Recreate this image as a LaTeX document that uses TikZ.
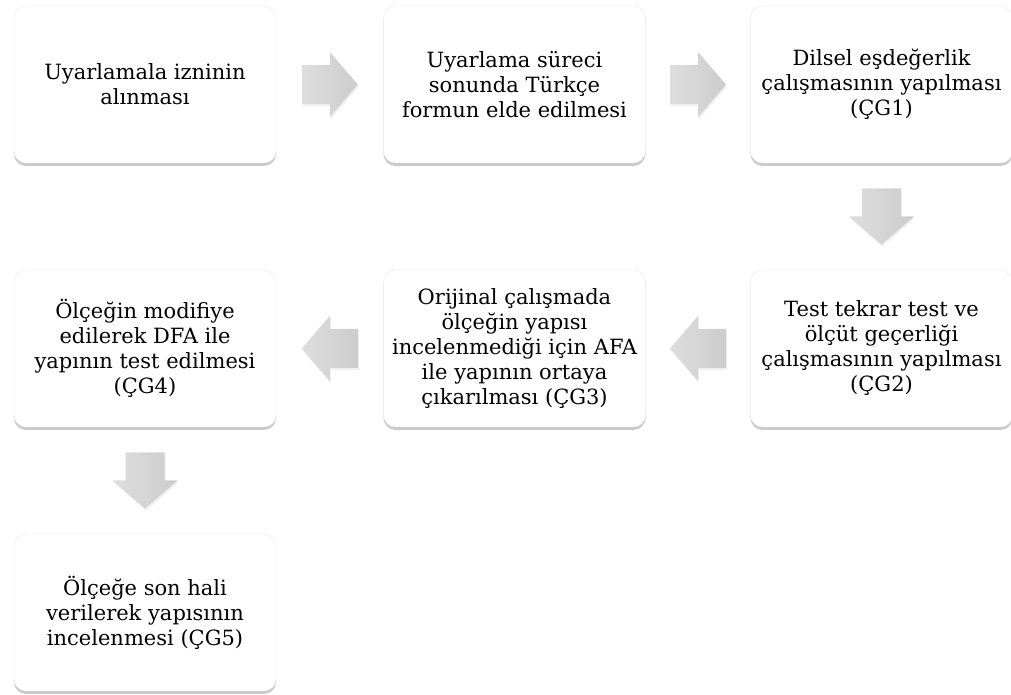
\documentclass[tikz,border=0pt]{standalone}
\usepackage{fontspec}
\setmainfont{DejaVu Serif}
\usepackage{tikz}
\usetikzlibrary{calc,shadows}

\tikzset{
  stepbox/.style={rectangle, rounded corners=12pt, fill=white, draw=gray!18, line width=0.4pt,
    minimum width=262pt, minimum height=157pt, align=center,
    font=\fontsize{21}{25}\selectfont,
    drop shadow={shadow xshift=0pt, shadow yshift=-3pt, opacity=0.35, fill=gray!80!black}},
  arrowfill/.style={left color=gray!26, right color=gray!40, draw=none,
    drop shadow={shadow xshift=1pt, shadow yshift=-2pt, opacity=0.12}},
  blockarr/.pic={
    \path[arrowfill] (-28,-19.5) -- (0,-19.5) -- (0,-32.5) -- (28,0)
      -- (0,32.5) -- (0,19.5) -- (-28,19.5) -- cycle;
  }
}

\begin{document}
\begin{tikzpicture}[x=1pt, y=1pt]
  \useasboundingbox (0,0) rectangle (1011,695);

  % First row
  \node[stepbox] (izin) at (145,610.5) {Uyarlamala izninin\\alınması};
  \node[stepbox] (form) at (514.5,610.5) {Uyarlama süreci\\sonunda Türkçe\\formun elde edilmesi};
  \node[stepbox] (cg1) at (881.5,610.5) {Dilsel eşdeğerlik\\çalışmasının yapılması\\(ÇG1)};

  % Second row
  \node[stepbox] (cg2) at (881.5,346.5) {Test tekrar test ve\\ölçüt geçerliği\\çalışmasının yapılması\\(ÇG2)};
  \node[stepbox] (cg3) at (514.5,346.5) {Orijinal çalışmada\\ölçeğin yapısı\\incelenmediği için AFA\\ile yapının ortaya\\çıkarılması (ÇG3)};
  \node[stepbox] (cg4) at (145,346.5) {Ölçeğin modifiye\\edilerek DFA ile\\yapının test edilmesi\\(ÇG4)};

  % Third row
  \node[stepbox] (cg5) at (145,82.5) {Ölçeğe son hali\\verilerek yapısının\\incelenmesi (ÇG5)};

  % Block arrows
  \pic at ($(izin.east)!0.5!(form.west)$) {blockarr};
  \pic at ($(form.east)!0.5!(cg1.west)$) {blockarr};
  \pic[rotate=-90] at ($(cg1.south)!0.5!(cg2.north)$) {blockarr};
  \pic[rotate=180] at ($(cg2.west)!0.5!(cg3.east)$) {blockarr};
  \pic[rotate=180] at ($(cg3.west)!0.5!(cg4.east)$) {blockarr};
  \pic[rotate=-90] at ($(cg4.south)!0.5!(cg5.north)$) {blockarr};
\end{tikzpicture}
\end{document}
